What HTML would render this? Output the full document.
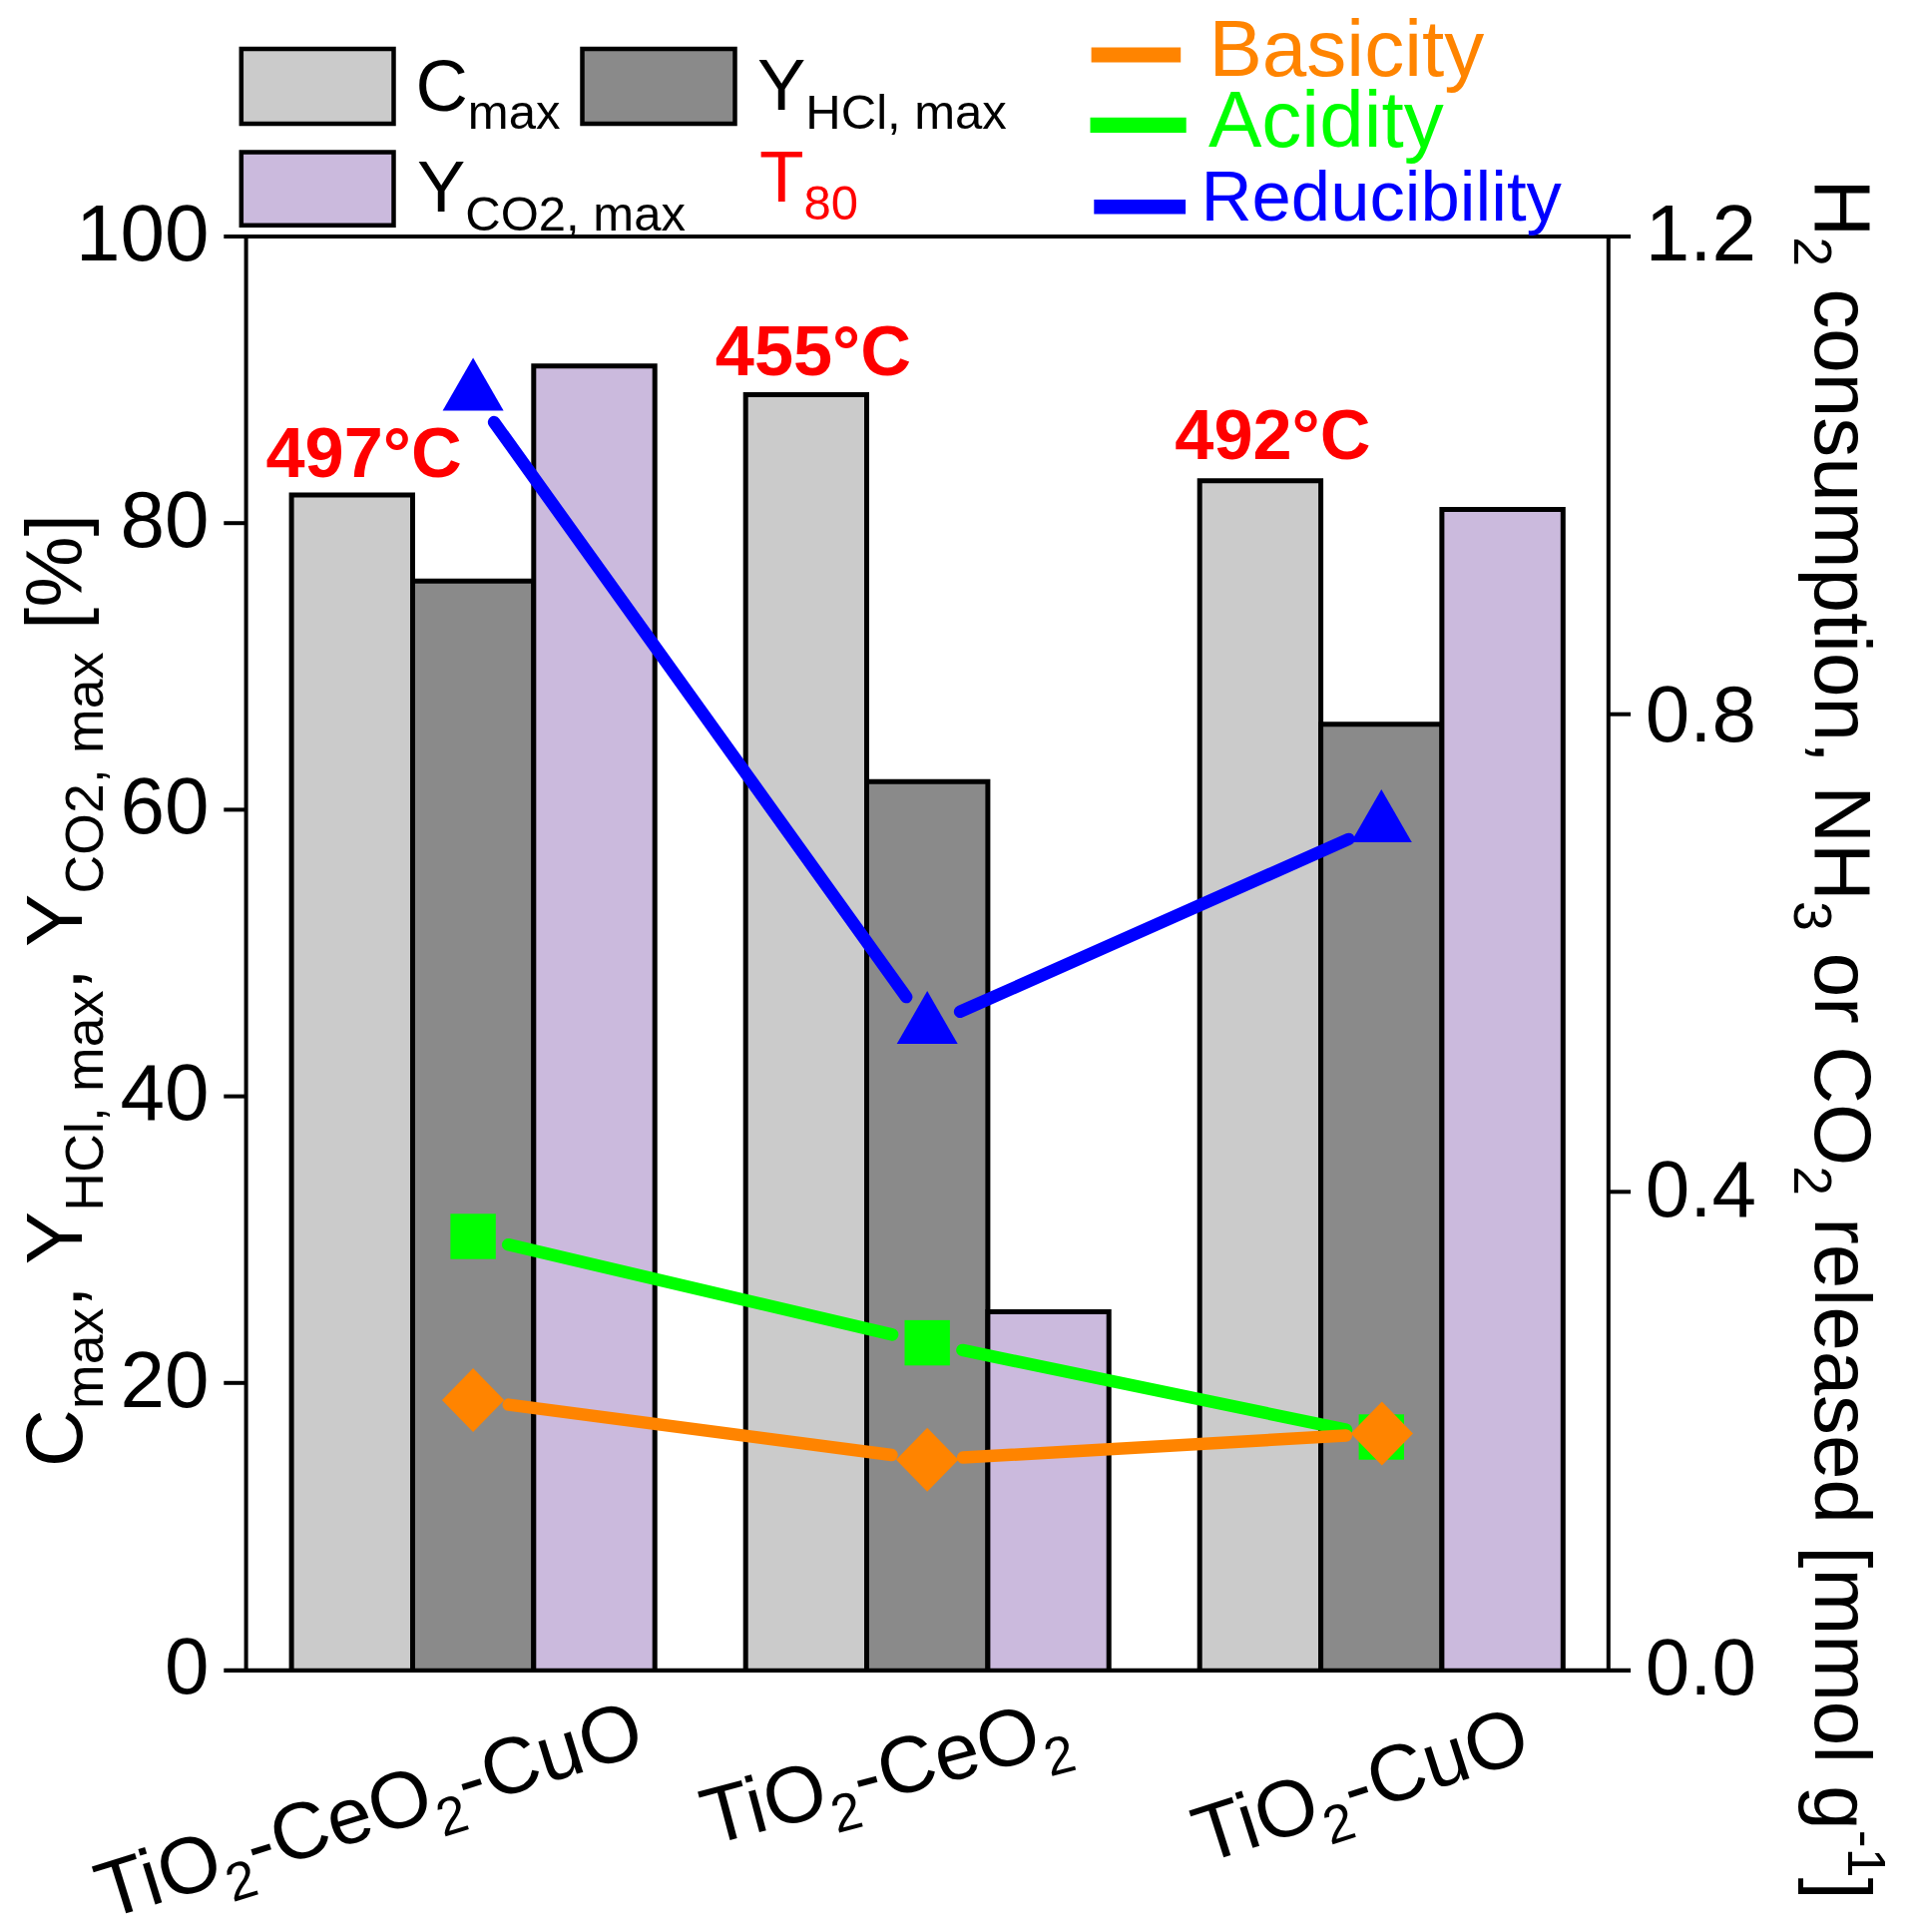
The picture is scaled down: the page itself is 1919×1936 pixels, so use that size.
<!DOCTYPE html><html><head><meta charset="utf-8"><title>chart</title>
<style>html,body{margin:0;padding:0;background:#fff}svg{display:block}text{font-family:"Liberation Sans",sans-serif}</style></head><body>
<svg width="1919" height="1936" viewBox="0 0 1919 1936">
<rect width="1919" height="1936" fill="#fff"/>
<path d="M292.1 1673.0V496.1H413.5V1673.0" fill="#CBCBCB" stroke="#000" stroke-width="5.0" stroke-linejoin="miter"/>
<path d="M413.5 1673.0V582.2H534.8V1673.0" fill="#8A8A8A" stroke="#000" stroke-width="5.0" stroke-linejoin="miter"/>
<path d="M534.8 1673.0V366.8H656.2V1673.0" fill="#CBBADD" stroke="#000" stroke-width="5.0" stroke-linejoin="miter"/>
<path d="M747.2 1673.0V395.6H868.5V1673.0" fill="#CBCBCB" stroke="#000" stroke-width="5.0" stroke-linejoin="miter"/>
<path d="M868.5 1673.0V783.3H989.9V1673.0" fill="#8A8A8A" stroke="#000" stroke-width="5.0" stroke-linejoin="miter"/>
<path d="M989.9 1673.0V1314.6H1111.2V1673.0" fill="#CBBADD" stroke="#000" stroke-width="5.0" stroke-linejoin="miter"/>
<path d="M1202.2 1673.0V481.7H1323.6V1673.0" fill="#CBCBCB" stroke="#000" stroke-width="5.0" stroke-linejoin="miter"/>
<path d="M1323.6 1673.0V725.8H1444.9V1673.0" fill="#8A8A8A" stroke="#000" stroke-width="5.0" stroke-linejoin="miter"/>
<path d="M1444.9 1673.0V510.4H1566.3V1673.0" fill="#CBBADD" stroke="#000" stroke-width="5.0" stroke-linejoin="miter"/>
<g stroke="#000" stroke-width="4.0" fill="none">
<path d="M224.29999999999998 237.0H1634.1M246.6 237.0V1673.0M1611.8 237.0V1673.0"/>
<path d="M224.29999999999998 1673.9H1634.1" stroke-width="4.2"/>
<path d="M224.29999999999998 1385.8H246.6"/>
<path d="M224.29999999999998 1098.6H246.6"/>
<path d="M224.29999999999998 811.4H246.6"/>
<path d="M224.29999999999998 524.2H246.6"/>
<path d="M1611.8 1194.3H1634.1"/>
<path d="M1611.8 715.7H1634.1"/>
</g>
<text x="209.5" y="1696.8" font-size="80" text-anchor="end">0</text>
<text x="209.5" y="1409.6" font-size="80" text-anchor="end">20</text>
<text x="209.5" y="1122.4" font-size="80" text-anchor="end">40</text>
<text x="209.5" y="835.2" font-size="80" text-anchor="end">60</text>
<text x="209.5" y="548.0" font-size="80" text-anchor="end">80</text>
<text x="209.5" y="260.8" font-size="80" text-anchor="end">100</text>
<text x="1648.7" y="1697.7" font-size="80">0.0</text>
<text x="1648.7" y="1218.5" font-size="80">0.4</text>
<text x="1648.7" y="742.7" font-size="80">0.8</text>
<text x="1648.7" y="261.0" font-size="80">1.2</text>
<line x1="509.2" y1="1247.2" x2="894.1" y2="1337.4" stroke="#00FF00" stroke-width="12.5" stroke-linecap="round"/>
<line x1="964.4" y1="1352.9" x2="1349.0" y2="1432.7" stroke="#00FF00" stroke-width="12.5" stroke-linecap="round"/>
<rect x="451.4" y="1216.3" width="45.4" height="45.4" fill="#00FF00"/>
<rect x="906.5" y="1322.9" width="45.4" height="45.4" fill="#00FF00"/>
<rect x="1361.6" y="1417.3" width="45.4" height="45.4" fill="#00FF00"/>
<line x1="509.8" y1="1407.6" x2="893.5" y2="1458.0" stroke="#FF8400" stroke-width="12.5" stroke-linecap="round"/>
<line x1="965.1" y1="1460.6" x2="1348.8" y2="1438.5" stroke="#FF8400" stroke-width="12.5" stroke-linecap="round"/>
<path d="M474.1 1370.9L505.3 1402.9L474.1 1434.9L442.9 1402.9Z" fill="#FF8400"/>
<path d="M929.2 1430.7L960.4 1462.7L929.2 1494.7L898.0 1462.7Z" fill="#FF8400"/>
<path d="M1384.8 1404.4L1416.0 1436.4L1384.8 1468.4L1353.6 1436.4Z" fill="#FF8400"/>
<line x1="495.1" y1="423.1" x2="908.2" y2="999.1" stroke="#0000FF" stroke-width="12.5" stroke-linecap="round"/>
<line x1="962.1" y1="1013.8" x2="1351.4" y2="840.9" stroke="#0000FF" stroke-width="12.5" stroke-linecap="round"/>
<path d="M474.1 358.5L504.6 411.5L443.6 411.5Z" fill="#0000FF"/>
<path d="M929.2 993.1L959.7 1046.1L898.7 1046.1Z" fill="#0000FF"/>
<path d="M1384.3 791.0L1414.8 844.0L1353.8 844.0Z" fill="#0000FF"/>
<g font-weight="bold" fill="#FF0000" font-size="70.3">
<text x="266.5" y="477.5">497°C</text>
<text x="716.8" y="375.5">455°C</text>
<text x="1177.3" y="460.3">492°C</text>
</g>
<g stroke="#000" stroke-width="4.5">
<rect x="241.8" y="49" width="152.7" height="75" fill="#CBCBCB"/>
<rect x="583.5" y="49" width="153" height="75" fill="#8A8A8A"/>
<rect x="241.8" y="152.5" width="152.7" height="73.3" fill="#CBBADD"/>
</g>
<text x="416.5" y="111" font-size="72.5">C<tspan font-size="49" dy="18">max</tspan></text>
<text x="759" y="110.2" font-size="72.5">Y<tspan font-size="49" dy="19">HCl, max</tspan></text>
<text x="418" y="211.5" font-size="72.5">Y<tspan font-size="49" dy="19.5">CO2, max</tspan></text>
<text x="761" y="202" font-size="73" fill="#FF0000">T<tspan font-size="49" dy="18">80</tspan></text>
<line x1="1093.6" y1="55" x2="1183.2" y2="55" stroke="#FF8400" stroke-width="15"/>
<line x1="1092.5" y1="125.3" x2="1188.7" y2="125.3" stroke="#00FF00" stroke-width="15.2"/>
<line x1="1096.3" y1="207.3" x2="1188.1" y2="207.3" stroke="#0000FF" stroke-width="14.6"/>
<text x="1211.5" y="76" font-size="80" fill="#FF8400">Basicity</text>
<text x="1211" y="147" font-size="80" fill="#00FF00">Acidity</text>
<text x="1203.5" y="221.3" font-size="70.7" fill="#0000FF">Reducibility</text>
<text transform="translate(82.3,1470) rotate(-90)" font-size="80" textLength="955" lengthAdjust="spacing">C<tspan font-size="53.5" dy="21">max</tspan><tspan dy="-21">, Y</tspan><tspan font-size="53.5" dy="21">HCl, max</tspan><tspan dy="-21">, Y</tspan><tspan font-size="53.5" dy="21">CO2, max</tspan><tspan dy="-21"> [%]</tspan></text>
<text transform="translate(1819,179.5) rotate(90)" font-size="80">H<tspan font-size="53.5" dy="21">2</tspan><tspan dy="-21"> consumption, NH</tspan><tspan font-size="53.5" dy="21">3</tspan><tspan dy="-21"> or CO</tspan><tspan font-size="53.5" dy="21">2</tspan><tspan dy="-21"> released [mmol g</tspan><tspan font-size="53.5" dy="-32.5">-1</tspan><tspan dy="32.5">]</tspan></text>
<text transform="translate(106.6,1923.5) rotate(-17.2)" font-size="80">TiO<tspan font-size="53.5" dy="21">2</tspan><tspan dy="-21">-CeO</tspan><tspan font-size="53.5" dy="21">2</tspan><tspan dy="-21">-CuO</tspan></text>
<text transform="translate(711.4,1849.3) rotate(-14.9)" font-size="80">TiO<tspan font-size="53.5" dy="21">2</tspan><tspan dy="-21">-CeO</tspan><tspan font-size="53.5" dy="21">2</tspan></text>
<text transform="translate(1206.6,1867.5) rotate(-17.8)" font-size="80">TiO<tspan font-size="53.5" dy="21">2</tspan><tspan dy="-21">-CuO</tspan></text>
</svg></body></html>
